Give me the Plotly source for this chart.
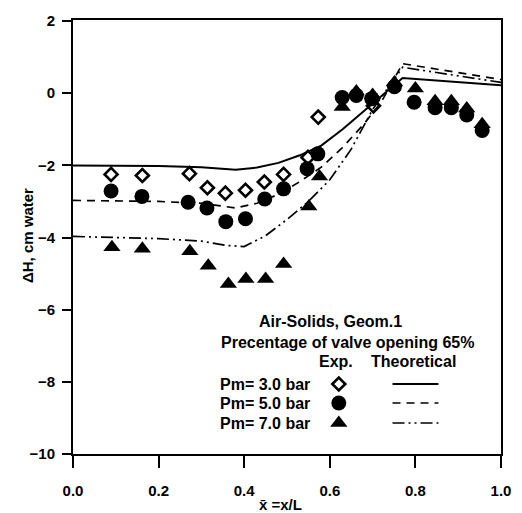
import plotly.graph_objects as go

# ---------------- data ----------------
x_exp3 = [0.089, 0.162, 0.272, 0.314, 0.356, 0.403, 0.447, 0.492, 0.549, 0.573, 0.702, 0.751]
y_exp3 = [-2.25, -2.28, -2.23, -2.62, -2.77, -2.69, -2.46, -2.25, -1.78, -0.66, -0.35, 0.22]

x_exp5 = [0.089, 0.161, 0.269, 0.313, 0.357, 0.403, 0.448, 0.492, 0.547, 0.572, 0.629, 0.662,
          0.698, 0.751, 0.797, 0.846, 0.884, 0.920, 0.956]
y_exp5 = [-2.71, -2.86, -3.02, -3.18, -3.56, -3.48, -2.93, -2.65, -2.09, -1.68, -0.12, -0.06,
          -0.15, 0.18, -0.25, -0.40, -0.40, -0.60, -1.03]

x_exp7 = [0.091, 0.162, 0.273, 0.316, 0.363, 0.404, 0.450, 0.492, 0.551, 0.576, 0.629, 0.662,
          0.700, 0.751, 0.800, 0.846, 0.884, 0.920, 0.956]
y_exp7 = [-4.27, -4.31, -4.38, -4.78, -5.29, -5.15, -5.15, -4.73, -3.14, -2.31, -0.38, 0.05,
          -0.05, 0.30, 0.13, -0.22, -0.22, -0.42, -0.86]

x_th3 = [0.0, 0.1, 0.2, 0.3, 0.38, 0.43, 0.48, 0.53, 0.58, 0.63, 0.68, 0.72, 0.77, 1.0]
y_th3 = [-2.0, -2.0, -2.02, -2.05, -2.12, -2.06, -1.93, -1.72, -1.45, -1.0, -0.5, -0.1, 0.42, 0.22]

x_th5 = [0.0, 0.1, 0.2, 0.3, 0.38, 0.43, 0.48, 0.53, 0.58, 0.63, 0.68, 0.72, 0.77, 1.0]
y_th5 = [-2.97, -2.98, -3.0, -3.05, -3.18, -3.05, -2.8, -2.45, -2.05, -1.5, -0.85, -0.25, 0.82, 0.38]

x_th7 = [0.0, 0.1, 0.2, 0.3, 0.36, 0.4, 0.45, 0.5, 0.55, 0.6, 0.65, 0.7, 0.77, 1.0]
y_th7 = [-3.97, -4.0, -4.03, -4.1, -4.22, -4.25, -3.95, -3.5, -3.0, -2.4, -1.55, -0.45, 0.72, 0.30]

pm_labels = ["Pm= 3.0 bar", "Pm= 5.0 bar", "Pm= 7.0 bar"]
x_ticks = [0.0, 0.2, 0.4, 0.6, 0.8, 1.0]
y_ticks = [-10, -8, -6, -4, -2, 0, 2]

# ---------------- layout helpers ----------------
W, H = 522, 513
L, R, T, B = 73, 511, 20, 454
FONT = "Liberation Sans, Arial, sans-serif"


def px(xp):
    return (xp - L) / (R - L)


def py(yp):
    return (B - yp) / (B - T)


fig = go.Figure()

DIA = dict(symbol="diamond-open", size=10, color="black", line=dict(color="black", width=2.6))
CIR = dict(symbol="circle", size=15, color="black")
TRI = dict(symbol="triangle-up", size=15, color="black")

DASH5 = "8px,6px"
DASH7 = "12px,4px,2px,4px,2px,4px"

fig.add_trace(go.Scatter(x=x_th3, y=y_th3, mode="lines", line=dict(color="black", width=2)))
fig.add_trace(go.Scatter(x=x_th5, y=y_th5, mode="lines", line=dict(color="black", width=1.7, dash=DASH5)))
fig.add_trace(go.Scatter(x=x_th7, y=y_th7, mode="lines", line=dict(color="black", width=1.7, dash=DASH7)))
fig.add_trace(go.Scatter(x=x_exp3, y=y_exp3, mode="markers", marker=DIA))
fig.add_trace(go.Scatter(x=x_exp5, y=y_exp5, mode="markers", marker=CIR))
fig.add_trace(go.Scatter(x=x_exp7, y=y_exp7, mode="markers", marker=TRI))

# legend keys on an overlay axis spanning the plot area (paper-like coordinates)
row_y = [384, 403, 423]
key_x = 345
line_x0, line_x1 = 400, 447
for i, (mk, dash) in enumerate([(DIA, None), (CIR, DASH5), (TRI, DASH7)]):
    fig.add_trace(go.Scatter(x=[px(key_x)], y=[py(row_y[i])], mode="markers", marker=mk,
                             xaxis="x2", yaxis="y2"))
    ln = dict(color="black", width=2 if dash is None else 1.7)
    if dash:
        ln["dash"] = dash
    fig.add_trace(go.Scatter(x=[px(line_x0), px(line_x1)], y=[py(row_y[i])] * 2, mode="lines",
                             line=ln, xaxis="x2", yaxis="y2"))

ann_font = dict(family=FONT, size=16, color="black", weight="bold")
annotations = [
    dict(text="Air-Solids, Geom.1", x=px(337), y=py(321), xanchor="center", yanchor="middle"),
    dict(text="Precentage of valve opening 65%", x=px(354), y=py(342), xanchor="center", yanchor="middle"),
    dict(text="Exp.", x=px(342), y=py(361), xanchor="center", yanchor="middle"),
    dict(text="Theoretical", x=px(421), y=py(361), xanchor="center", yanchor="middle"),
]
for i, lab in enumerate(pm_labels):
    annotations.append(dict(text=lab, x=px(221), y=py(row_y[i]), xanchor="left", yanchor="middle"))
for a in annotations:
    a.update(xref="paper", yref="paper", showarrow=False, font=ann_font)

title_font = dict(family=FONT, size=15, color="black", weight="bold")
annotations.append(dict(text="x\u0304 =x/L", x=px(285), y=py(504), xref="paper", yref="paper",
                        xanchor="center", yanchor="middle", showarrow=False, font=title_font))
annotations.append(dict(text="\u0394H, cm water", x=px(27), y=py(236), xref="paper", yref="paper",
                        xanchor="center", yanchor="middle", showarrow=False, textangle=-90,
                        font=title_font))

tick_font = dict(family=FONT, size=15, color="black", weight="bold")

fig.update_layout(
    width=W, height=H,
    margin=dict(l=L, r=W - R, t=T, b=H - B),
    paper_bgcolor="white", plot_bgcolor="white",
    showlegend=False,
    annotations=annotations,
    xaxis=dict(range=[0, 1.0], tickvals=x_ticks, tickformat=".1f", ticks="outside", ticklen=12,
               tickwidth=2, tickcolor="black", showline=True, linewidth=2, linecolor="black",
               mirror=True, showgrid=False, zeroline=False, tickfont=tick_font,
               ticklabelstandoff=10),
    yaxis=dict(range=[-10, 2.03], tickvals=y_ticks, ticks="outside", ticklen=9, tickwidth=2,
               tickcolor="black", showline=True, linewidth=2, linecolor="black", mirror=True,
               showgrid=False, zeroline=False, tickfont=tick_font, ticklabelstandoff=4),
    xaxis2=dict(range=[0, 1], overlaying="x", visible=False, fixedrange=True),
    yaxis2=dict(range=[0, 1], overlaying="y", visible=False, fixedrange=True),
)

fig.write_html("out.html")
